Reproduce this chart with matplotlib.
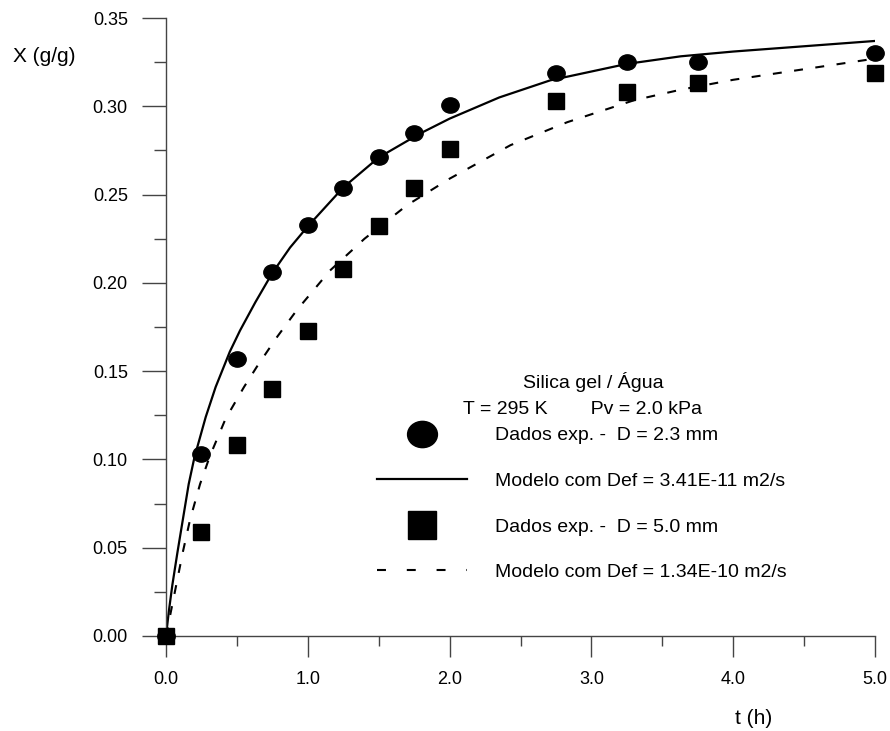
import numpy as np
import matplotlib
matplotlib.use('Agg')
from matplotlib import pyplot as plt
from matplotlib.path import Path
from matplotlib.lines import Line2D
from matplotlib.ticker import MultipleLocator, FormatStrFormatter

# experimental data
t_exp = [0.0, 0.25, 0.5, 0.75, 1.0, 1.25, 1.5, 1.75, 2.0, 2.75, 3.25, 3.75, 5.0]
x_d23 = [0.000, 0.103, 0.157, 0.206, 0.233, 0.254, 0.271, 0.285, 0.301,
         0.319, 0.325, 0.325, 0.330]
x_d50 = [0.000, 0.059, 0.108, 0.140, 0.173, 0.208, 0.232, 0.254, 0.276,
         0.303, 0.308, 0.313, 0.319]

# model curves
t_mod1 = [0.0, 0.02, 0.045, 0.08, 0.122, 0.16, 0.2, 0.28, 0.35, 0.45, 0.522,
          0.63, 0.75, 0.875, 1.0, 1.25, 1.5, 1.79, 2.0, 2.35, 2.71, 3.25,
          3.63, 4.0, 4.5, 5.0]
x_mod1 = [0.0, 0.014, 0.029, 0.047, 0.0675, 0.086, 0.101, 0.124, 0.141, 0.161,
          0.173, 0.189, 0.2056, 0.220, 0.232, 0.254, 0.271, 0.2845, 0.293,
          0.305, 0.3147, 0.324, 0.3283, 0.331, 0.334, 0.337]
t_mod2 = [0.0, 0.03, 0.075, 0.12, 0.17, 0.24, 0.31, 0.42, 0.55, 0.64, 0.78,
          0.922, 1.157, 1.4, 1.7, 2.0, 2.43, 2.83, 3.3, 3.63, 4.0, 4.5, 5.0]
x_mod2 = [0.0, 0.012, 0.030, 0.048, 0.066, 0.086, 0.102, 0.123, 0.141, 0.1524,
          0.169, 0.1845, 0.207, 0.225, 0.244, 0.259, 0.278, 0.291, 0.3034,
          0.3094, 0.315, 0.321, 0.327]

leg_labels = ['Dados exp. -  D = 2.3 mm', 'Modelo com Def = 3.41E-11 m2/s',
              'Dados exp. -  D = 5.0 mm', 'Modelo com Def = 1.34E-10 m2/s']

plt.rcParams['font.family'] = ['Liberation Sans', 'DejaVu Sans']

# slightly flattened circle marker
circ = Path.unit_circle()
ellipse = Path(circ.vertices * np.array([1.0, 0.88]), circ.codes)

fig = plt.figure(figsize=(8.9, 7.31), dpi=100)
ax = fig.add_axes([166/890, 1 - 636/731, 709/890, 618/731])

ax.plot(t_mod1, x_mod1, '-', color='k', lw=1.6)
ax.plot(t_mod2, x_mod2, color='k', lw=1.5, linestyle=(0, (4.3, 6.0)))
ax.plot(t_exp, x_d23, linestyle='none', marker=ellipse, ms=12.5, color='k',
        clip_on=False, zorder=3)
ax.plot(t_exp, x_d50, linestyle='none', marker='s', ms=11.5, color='k',
        clip_on=False, zorder=3)

ax.set_xlim(0, 5)
ax.set_ylim(0, 0.35)
for s in ['top', 'right']:
    ax.spines[s].set_visible(False)
for s in ['left', 'bottom']:
    ax.spines[s].set_color('#444444')
    ax.spines[s].set_linewidth(1.0)

ax.xaxis.set_major_locator(MultipleLocator(1.0))
ax.xaxis.set_minor_locator(MultipleLocator(0.5))
ax.yaxis.set_major_locator(MultipleLocator(0.05))
ax.yaxis.set_minor_locator(MultipleLocator(0.025))
ax.xaxis.set_major_formatter(FormatStrFormatter('%.1f'))
ax.yaxis.set_major_formatter(FormatStrFormatter('%.2f'))

ax.tick_params(axis='x', which='major', direction='out', length=15, width=1,
               color='#444444', pad=10, labelsize=13)
ax.tick_params(axis='x', which='minor', direction='out', length=7.5, width=1,
               color='#444444')
ax.tick_params(axis='y', which='major', direction='out', length=17.5, width=1,
               color='#444444', pad=10, labelsize=13)
ax.tick_params(axis='y', which='minor', direction='out', length=8.5, width=1,
               color='#444444')

fig.text(13/890, 1 - 57/731, 'X (g/g)', fontsize=15, ha='left', va='center')
fig.text(754/890, 1 - 718/731, 't (h)', fontsize=15, ha='center', va='center')

ax.text(0.602, 0.411, 'Silica gel / Água', transform=ax.transAxes,
        fontsize=14, ha='center', va='center')
ax.text(0.587, 0.367, 'T = 295 K        Pv = 2.0 kPa', transform=ax.transAxes,
        fontsize=14, ha='center', va='center')

handles = [
    Line2D([], [], linestyle='none', marker=ellipse, ms=21.5, color='k'),
    Line2D([], [], linestyle='-', color='k', lw=1.6),
    Line2D([], [], linestyle='none', marker='s', ms=20, color='k'),
    Line2D([], [], linestyle=(0, (4.3, 10.0)), color='k', lw=1.5),
]
ax.legend(handles, leg_labels, loc='center left',
          bbox_to_anchor=((377 - 166) / 709, 1 - (504 - 18) / 618),
          frameon=False, fontsize=14, handlelength=4.63, handletextpad=1.44,
          labelspacing=1.44, borderpad=0, borderaxespad=0)

plt.savefig('out.png', dpi=100)
